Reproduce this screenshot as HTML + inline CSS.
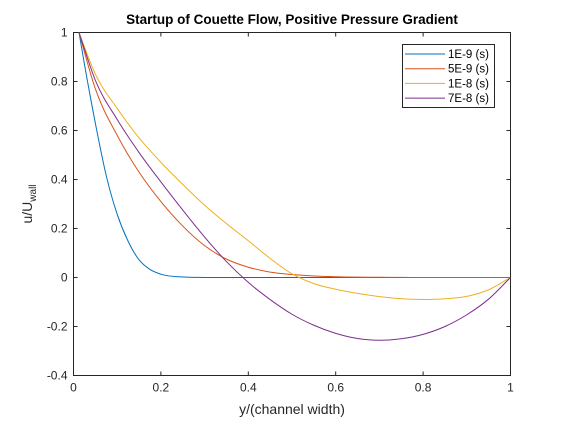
<!DOCTYPE html>
<html><head><meta charset="utf-8"><style>
body{margin:0;background:#fff;}
svg{font-family:"Liberation Sans",sans-serif;}
</style></head><body>
<svg id="chart" width="564" height="422" xmlns="http://www.w3.org/2000/svg">
<rect width="564" height="422" fill="#fff"/>
<g id="plot"></g>
</svg>
<script>
const xb = [0.0126,0.025,0.05,0.075,0.1,0.125,0.15,0.175,0.2,0.25,0.3,0.35,0.5,0.75,1];
const s1 = [1,0.871,0.63,0.415,0.258,0.148,0.072,0.033,0.0136,0.002,0.0002,0,0,0,0];
const xs = [0.0126,0.05,0.1,0.15,0.2,0.25,0.3,0.35,0.4,0.45,0.5,0.55,0.6,0.65,0.7,0.75,0.8,0.85,0.9,0.95,1];
const s2 = [1,0.77,0.58,0.43,0.31,0.21,0.13,0.075,0.042,0.022,0.012,0.006,0.003,0.0015,0.001,0.0005,0,0,0,0,0];
const s3 = [1,0.83,0.69,0.57,0.47,0.38,0.295,0.22,0.15,0.078,0.015,-0.025,-0.048,-0.065,-0.078,-0.087,-0.09,-0.087,-0.077,-0.05,0];
const s4 = [1,0.805,0.645,0.51,0.39,0.275,0.165,0.065,-0.02,-0.09,-0.15,-0.195,-0.228,-0.249,-0.256,-0.25,-0.232,-0.2,-0.152,-0.088,0];
const seriesNames = ["1E-9 (s)","5E-9 (s)","1E-8 (s)","7E-8 (s)"];
const xTicks = [0,0.2,0.4,0.6,0.8,1];
const xTickLabels = ["0","0.2","0.4","0.6","0.8","1"];
const yTicks = [-0.4,-0.2,0,0.2,0.4,0.6,0.8,1];
const yTickLabels = ["-0.4","-0.2","0","0.2","0.4","0.6","0.8","1"];

const L=73.5,R=510.5,T=32.5,B=375.5;
const X=v=>L+(v-0)/(1-0)*(R-L);
const Y=v=>B-(v+0.4)/(1.4)*(B-T);
const colors=["#0072bd","#d95319","#edb120","#7e2f8e"];
const NS="http://www.w3.org/2000/svg";
const g=document.getElementById('plot');
function mk(tag,attrs){const e=document.createElementNS(NS,tag);for(const k in attrs)e.setAttribute(k,attrs[k]);g.appendChild(e);return e;}

const box=mk('rect',{x:L,y:T,width:R-L,height:B-T,fill:'none',stroke:'#262626','stroke-width':1});


xTicks.forEach((t,i)=>{
  const x=X(t);
  mk('line',{x1:x,y1:B,x2:x,y2:B-4,stroke:'#262626'});
  mk('line',{x1:x,y1:T,x2:x,y2:T+4,stroke:'#262626'});
  const tx=mk('text',{x:x,y:B+16,'text-anchor':'middle','font-size':12,fill:'#262626'});
  tx.textContent=xTickLabels[i];
  
  
});
yTicks.forEach((t,i)=>{
  const y=Y(t);
  mk('line',{x1:L,y1:y,x2:L+4,y2:y,stroke:'#262626'});
  mk('line',{x1:R,y1:y,x2:R-4,y2:y,stroke:'#262626'});
  const tx=mk('text',{x:L-6,y:y+4,'text-anchor':'end','font-size':12,fill:'#262626'});
  tx.textContent=yTickLabels[i];
  
  
});
// cubic Hermite in data space with weighted-secant tangents
function curve(xv,yv){
  const n=xv.length,d=[],m=[];
  for(let i=0;i<n-1;i++)d.push((yv[i+1]-yv[i])/(xv[i+1]-xv[i]));
  m[0]=d[0];m[n-1]=d[n-2];
  for(let i=1;i<n-1;i++){
    const h0=xv[i]-xv[i-1],h1=xv[i+1]-xv[i];
    m[i]=(d[i-1]*h1+d[i]*h0)/(h0+h1);
  }
  let p='M'+X(xv[0]).toFixed(2)+','+Y(yv[0]).toFixed(2);
  for(let i=0;i<n-1;i++){
    const h=xv[i+1]-xv[i];
    p+=' C'+X(xv[i]+h/3).toFixed(2)+','+Y(yv[i]+m[i]*h/3).toFixed(2)+' '+X(xv[i+1]-h/3).toFixed(2)+','+Y(yv[i+1]-m[i+1]*h/3).toFixed(2)+' '+X(xv[i+1]).toFixed(2)+','+Y(yv[i+1]).toFixed(2);
  }
  return p;
}
[[xb,s1],[xs,s2],[xs,s3],[xs,s4]].forEach((s,k)=>{
  const p=mk('path',{d:curve(s[0],s[1]),fill:'none',stroke:colors[k],'stroke-width':1,'stroke-linejoin':'round'});
  
  
});
const lg=mk('rect',{x:402.5,y:44.5,width:92,height:63,fill:'#fff',stroke:'#262626'});


seriesNames.forEach((n,k)=>{
  const y=54+k*14.7;
  mk('line',{x1:405,y1:y,x2:445,y2:y,stroke:colors[k]});
  const t=mk('text',{x:448,y:y+4,'font-size':11.5,fill:'#000'});
  t.textContent=n;
  
  
});
const title=mk('text',{x:292,y:24,'text-anchor':'middle','font-size':13.5,'font-weight':'bold',fill:'#000'});
title.textContent='Startup of Couette Flow, Positive Pressure Gradient';


const xl=mk('text',{x:292,y:414,'text-anchor':'middle','font-size':14,fill:'#262626'});
xl.textContent='y/(channel width)';


const yl=mk('text',{x:0,y:0,'text-anchor':'middle','font-size':14,fill:'#262626',transform:'translate(32,204) rotate(-90)'});
yl.innerHTML='u/U<tspan font-size="10" dy="4">wall</tspan>';


</script>
</body></html>
